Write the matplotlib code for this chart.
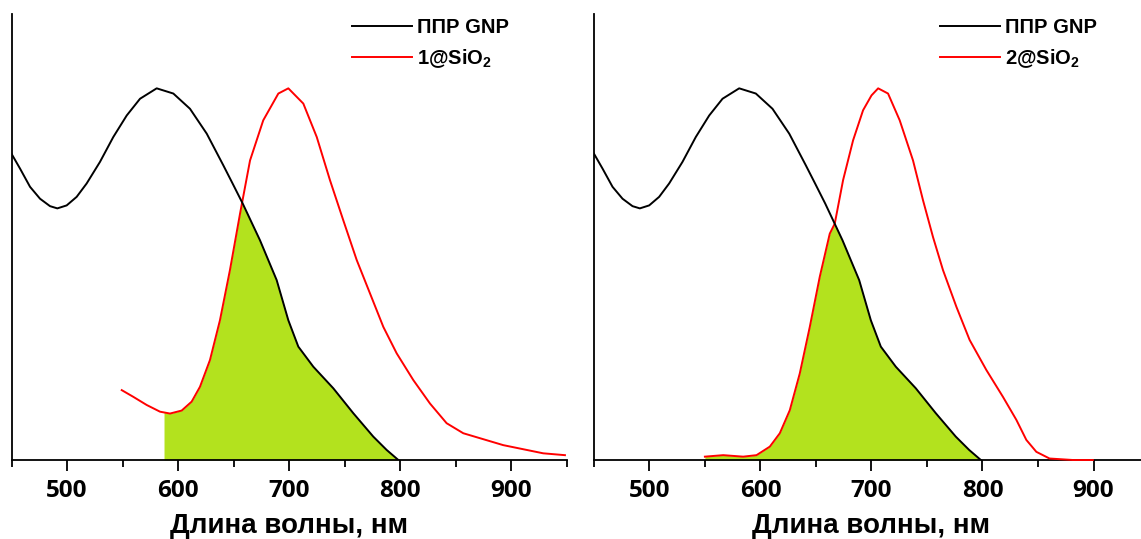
"""
Overlap of GNP plasmon band with emission of 1@SiO2 and 2@SiO2
"""

import numpy as np
import matplotlib
matplotlib.use('Agg')
import matplotlib.pyplot as plt

plt.rcParams['mathtext.fontset'] = 'custom'
plt.rcParams['mathtext.rm'] = 'Liberation Sans:bold'
plt.rcParams['mathtext.it'] = 'Liberation Sans:bold'

# GNP plasmon band (normalised), same in both panels
gnp_nm = [450, 457.7, 466.7, 475.7, 484.7, 491.3, 499.7, 508.7, 517.7, 529.7,
          541.7, 553.8, 565.8, 580.8, 595.8, 610.8, 625.9, 640.8, 649, 658.3,
          673.9, 688.9, 699.4, 708.4, 721.9, 739.9, 757.9, 775.9, 788, 798.5]
gnp_val = [0.824, 0.784, 0.735, 0.703, 0.683, 0.677, 0.685, 0.708, 0.744,
           0.802, 0.869, 0.927, 0.972, 1.0, 0.986, 0.945, 0.878, 0.793, 0.745,
           0.690, 0.591, 0.484, 0.376, 0.305, 0.251, 0.193, 0.126, 0.063,
           0.027, 0.0]

# emission of 1@SiO2
em1_nm = [549.3, 559.7, 571.8, 583.8, 592.8, 603.3, 612.3, 619.8, 628.8, 637.8,
          646.8, 655.9, 664.9, 676.8, 690.4, 699.4, 712.9, 725, 736.9, 748.9,
          761, 773, 785, 797, 812, 827, 842, 857, 875, 893, 911, 929, 948.6]
em1_val = [0.188, 0.170, 0.148, 0.130, 0.125, 0.133, 0.157, 0.197, 0.269,
           0.376, 0.511, 0.663, 0.806, 0.914, 0.986, 1.0, 0.959, 0.869, 0.753,
           0.645, 0.538, 0.448, 0.358, 0.287, 0.215, 0.152, 0.099, 0.072,
           0.056, 0.040, 0.029, 0.018, 0.013]

# emission of 2@SiO2
em2_nm = [549.9, 566.4, 584.4, 596.4, 608.4, 617.4, 626.4, 635.4, 644.4, 653.4,
          662.4, 666.9, 674.4, 683.4, 692.4, 700, 706, 714.9, 725.4, 737.4,
          746.4, 755.4, 764.4, 776.5, 788.4, 803.5, 818.4, 830.5, 839.5, 848.5,
          860.4, 881.4, 899.4]
em2_val = [0.009, 0.013, 0.009, 0.013, 0.036, 0.072, 0.134, 0.233, 0.358,
           0.493, 0.609, 0.636, 0.753, 0.860, 0.941, 0.981, 1.0, 0.986, 0.914,
           0.806, 0.699, 0.600, 0.511, 0.412, 0.323, 0.242, 0.170, 0.108,
           0.054, 0.022, 0.004, 0.0, 0.0]

panels = [
    (em1_nm, em1_val, '1@SiO$_2$', 587.4),
    (em2_nm, em2_val, '2@SiO$_2$', 549.9),
]

W, H = 1141, 539
fig = plt.figure(figsize=(W / 100, H / 100), dpi=100)

# axes boxes in pixels: left, right, top, bottom, legend start x
boxes = [(11.5, 566.5, 14, 460, 352), (594, 1149, 14, 460, 940)]

FILL = '#b3e21e'
BOLD = {'family': 'Liberation Sans', 'weight': 'bold'}

for (em_nm, em_val, label, fill_start), (x0, x1, yt, yb, lx) in zip(panels, boxes):
    ax = fig.add_axes([x0 / W, (H - yb) / H, (x1 - x0) / W, (yb - yt) / H])

    # overlap area under min(emission, plasmon)
    grid = np.linspace(fill_start, 800, 600)
    g = np.interp(grid, gnp_nm, gnp_val)
    e = np.interp(grid, em_nm, em_val)
    ax.fill_between(grid, 0, np.minimum(g, e), color=FILL, lw=0, zorder=1)

    ax.plot(gnp_nm, gnp_val, color='black', lw=1.4, label='ППР GNP', zorder=4)
    ax.plot(em_nm, em_val, color='red', lw=1.4, label=label, zorder=3, clip_on=False)

    ax.set_xlim(450, 950)
    ax.set_ylim(0, 1.2)
    ax.set_xticks([500, 600, 700, 800, 900])
    ax.set_xticks(np.arange(450, 951, 50), minor=True)
    ax.set_yticks([])
    ax.tick_params(axis='x', which='major', length=8, width=1.3, direction='out', pad=6)
    ax.tick_params(axis='x', which='minor', length=5, width=1.3, direction='out')
    for t in ax.get_xticklabels():
        t.set_fontfamily('Open Sans')
        t.set_fontweight('bold')
        t.set_fontsize(17.5)
    ax.spines['top'].set_visible(False)
    ax.spines['right'].set_visible(False)
    ax.spines['left'].set_linewidth(1.3)
    ax.spines['bottom'].set_linewidth(1.3)
    ax.set_xlabel('Длина волны, нм', fontsize=20, labelpad=7, **BOLD)

    ax.legend(loc='upper left', bbox_to_anchor=((lx - x0) / (x1 - x0), 0.99),
              frameon=False, handlelength=3.0, handletextpad=0.25, labelspacing=0.5,
              borderpad=0, borderaxespad=0,
              prop={'family': 'Liberation Sans', 'weight': 'bold', 'size': 14.5})

plt.savefig('out.png', dpi=100)
